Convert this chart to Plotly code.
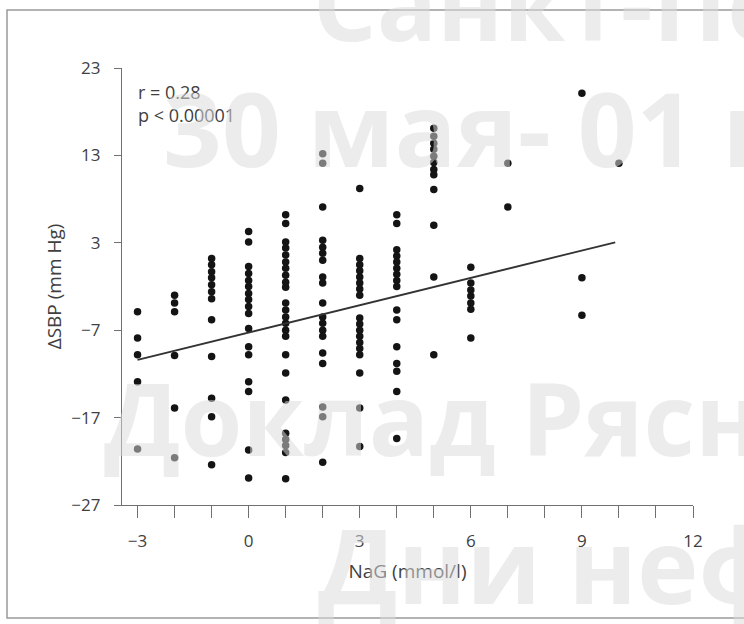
import plotly.graph_objects as go

# NaG (mmol/l) groups and the ΔSBP (mm Hg) values observed in each group
nag_groups = [-3, -2, -1, 0, 1, 2, 3, 4, 5, 6, 7, 9, 10]
dsbp_by_group = [
    [-4.9, -7.9, -9.8, -12.9, -20.6],
    [-3.0, -3.9, -4.9, -9.9, -15.9, -21.6],
    [1.2, 0.5, -0.3, -1.0, -1.8, -2.6, -3.4, -5.8, -10.0, -14.8, -16.9, -22.4],
    [4.3, 3.1, 0.3, -0.5, -1.3, -2.0, -2.8, -3.5, -4.3, -5.1, -6.8, -8.9, -9.8,
     -12.9, -14.0, -20.7, -23.9],
    [6.2, 5.2, 3.1, 2.4, 1.6, 0.8, 0.1, -0.7, -1.5, -2.1, -3.9, -4.7, -5.5, -6.2,
     -7.0, -7.7, -9.8, -11.9, -15.0, -18.8, -19.5, -20.2, -21.0, -24.0],
    [13.2, 12.1, 7.1, 3.3, 2.5, 1.8, 1.0, -0.9, -1.6, -3.9, -5.5, -6.2, -7.0,
     -7.7, -9.6, -10.8, -15.8, -16.9, -22.1],
    [9.2, 1.2, 0.5, -0.2, -0.9, -1.6, -2.3, -3.0, -5.6, -6.3, -7.0, -7.7, -8.4,
     -9.1, -9.8, -11.9, -15.9, -20.3],
    [6.2, 5.2, 2.2, 1.5, 0.8, 0.1, -0.6, -1.3, -2.0, -4.7, -5.8, -8.9, -10.8,
     -11.7, -14.0, -19.4],
    [16.1, 15.2, 14.4, 13.7, 12.9, 12.2, 11.4, 10.8, 9.1, 5.0, -0.9, -9.8],
    [0.2, -1.6, -2.4, -3.1, -3.9, -4.6, -7.9],
    [12.1, 7.1],
    [20.1, -1.0, -5.3],
    [12.1],
]

# Linear regression of ΔSBP on NaG
fit_intercept = -7.27
fit_slope = 1.043
fit_x_range = [-3, 9.9]
stats_text = ["r = 0.28", "p &lt; 0.00001"]

x_ticks = list(range(-3, 13))
x_tick_labels = ["−3", "", "", "0", "", "", "3", "", "", "6", "", "", "9", "", "", "12"]
y_ticks = [23, 13, 3, -7, -17, -27]
y_tick_labels = ["23", "13", "3", "−7", "−17", "−27"]

banner_lines = ["Санкт-Петербург", "30 мая- 01 июня", "Доклад Рясн", "Дни нефрологии"]

xs, ys = [], []
for g, vals in zip(nag_groups, dsbp_by_group):
    xs.extend([g] * len(vals))
    ys.extend(vals)

fit_y = [fit_intercept + fit_slope * x for x in fit_x_range]

W, H = 744, 624
L, R, T, B = 122, 693, 68, 505


def px(x):
    return (x - L) / (R - L)


def py(y):
    return (B - y) / (B - T)


fig = go.Figure()
fig.add_trace(go.Scatter(
    x=xs, y=ys, mode="markers",
    marker=dict(size=7.5, color="#141414", line=dict(width=0)),
    showlegend=False, hoverinfo="skip",
))
fig.add_trace(go.Scatter(
    x=fit_x_range, y=fit_y, mode="lines",
    line=dict(color="#333333", width=1.8),
    showlegend=False, hoverinfo="skip",
))

tick_font = dict(family="Open Sans", size=17, color="#404040")

fig.update_layout(
    width=W, height=H,
    margin=dict(l=L, r=W - R, t=T, b=H - B, pad=0),
    paper_bgcolor="white", plot_bgcolor="white",
    xaxis=dict(
        range=[-3.42, 12], tickvals=x_ticks, ticktext=x_tick_labels,
        ticks="outside", ticklen=12, tickwidth=1.3, tickcolor="#707070",
        showline=True, linecolor="#707070", linewidth=1.3,
        showgrid=False, zeroline=False, tickfont=tick_font, ticklabelstandoff=8,
        title=dict(text="NaG (mmol/l)", font=dict(family="Open Sans", size=19, color="#404040"),
                   standoff=14),
    ),
    yaxis=dict(
        range=[-27, 23], tickvals=y_ticks, ticktext=y_tick_labels,
        ticks="outside", ticklen=7, tickwidth=1.3, tickcolor="#707070",
        showline=True, linecolor="#707070", linewidth=1.3,
        showgrid=False, zeroline=False, tickfont=tick_font, ticklabelstandoff=10,
        title=dict(text="ΔSBP (mm Hg)", font=dict(family="Open Sans", size=19, color="#404040"),
                   standoff=4),
    ),
    font=dict(family="Open Sans", color="#404040"),
)

# r and p values in the upper-left corner
fig.add_annotation(
    xref="paper", yref="paper", x=px(136), y=py(78),
    xanchor="left", yanchor="top", align="left", showarrow=False,
    text="<br>".join(stats_text),
    font=dict(family="Open Sans", size=18, color="#404040"),
)

# outer frame
fig.add_shape(
    type="rect", xref="paper", yref="paper",
    x0=px(7), x1=px(760), y0=py(618), y1=py(10),
    line=dict(color="#9a9a9a", width=1.5), layer="below",
)

# banner text overlay
banner_pos = [(311, 40), (161, 166), (102, 455), (316, 603)]
banner_size = [100, 103, 100, 104]
for txt, (bx, by), fs in zip(banner_lines, banner_pos, banner_size):
    fig.add_annotation(
        xref="paper", yref="paper", x=px(bx), y=py(by - 0.38 * fs),
        xanchor="left", yanchor="middle", showarrow=False, text=txt,
        font=dict(family="Open Sans", size=fs, weight=700, color="rgba(218,218,218,0.52)"),
    )

fig.write_html("out.html")
